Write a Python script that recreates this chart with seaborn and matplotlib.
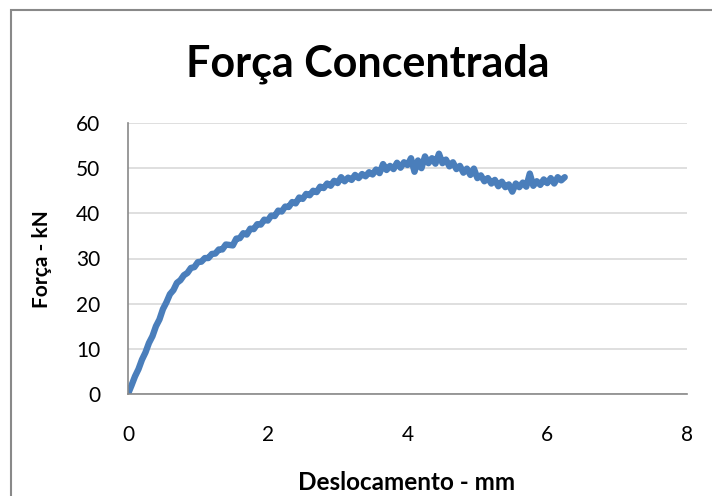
import matplotlib
matplotlib.use("Agg")
import matplotlib.pyplot as plt
import seaborn as sns
import pandas as pd
from matplotlib.patches import Rectangle

deslocamento = [
    0.00, 0.05, 0.10, 0.15, 0.20, 0.25, 0.30, 0.35, 0.40, 0.45,
    0.50, 0.55, 0.60, 0.65, 0.70, 0.75, 0.80, 0.85, 0.90, 0.95,
    1.00, 1.05, 1.10, 1.15, 1.20, 1.25, 1.30, 1.35, 1.40, 1.45,
    1.50, 1.55, 1.60, 1.65, 1.70, 1.75, 1.80, 1.85, 1.90, 1.95,
    2.00, 2.05, 2.10, 2.15, 2.20, 2.25, 2.30, 2.35, 2.40, 2.45,
    2.50, 2.55, 2.60, 2.65, 2.70, 2.75, 2.80, 2.85, 2.90, 2.95,
    3.00, 3.05, 3.10, 3.15, 3.20, 3.25, 3.30, 3.35, 3.40, 3.45,
    3.50, 3.55, 3.60, 3.65, 3.70, 3.75, 3.80, 3.85, 3.90, 3.95,
    4.00, 4.05, 4.10, 4.15, 4.20, 4.25, 4.30, 4.35, 4.40, 4.45,
    4.50, 4.55, 4.60, 4.65, 4.70, 4.75, 4.80, 4.85, 4.90, 4.95,
    5.00, 5.05, 5.10, 5.15, 5.20, 5.25, 5.30, 5.35, 5.40, 5.45,
    5.50, 5.55, 5.60, 5.65, 5.70, 5.75, 5.80, 5.85, 5.90, 5.95,
    6.00, 6.05, 6.10, 6.15, 6.20, 6.25,
]
forca = [
    0.0, 1.9, 3.9, 5.5, 7.6, 9.2, 11.3, 12.8, 15.0, 16.5,
    18.8, 20.3, 22.1, 23.0, 24.6, 25.2, 26.3, 26.8, 27.9, 28.1,
    29.2, 29.3, 30.1, 30.1, 31.0, 31.1, 32.0, 32.0, 33.1, 33.0,
    32.9, 34.4, 34.5, 35.6, 35.3, 36.6, 36.5, 37.6, 37.5, 38.6,
    38.4, 39.5, 39.4, 40.6, 40.4, 41.5, 41.4, 42.5, 42.2, 43.5,
    43.2, 44.3, 44.0, 45.0, 44.7, 45.9, 45.6, 46.6, 46.1, 47.2,
    46.7, 48.0, 47.1, 47.9, 47.4, 48.5, 47.8, 48.7, 48.2, 49.1,
    48.6, 49.7, 48.9, 50.9, 49.6, 50.5, 49.8, 51.2, 50.1, 51.3,
    50.7, 52.2, 49.2, 51.7, 50.0, 52.6, 51.1, 52.2, 51.0, 53.2,
    51.1, 51.9, 50.4, 51.3, 49.8, 50.5, 49.0, 49.9, 48.5, 49.9,
    47.8, 48.4, 47.1, 47.8, 46.6, 47.4, 46.0, 47.0, 45.8, 46.4,
    44.8, 46.6, 45.8, 46.8, 45.9, 48.8, 46.1, 47.1, 46.3, 47.5,
    46.7, 47.8, 46.6, 48.0, 47.3, 48.0,
]
x_ticks = [0, 2, 4, 6, 8]
y_ticks = [0, 10, 20, 30, 40, 50, 60]

titulo = "Força Concentrada"
x_label = "Deslocamento - mm"
y_label = "Força - kN"

sns.set_theme(style="white")
plt.rcParams["font.family"] = ["Lato", "DejaVu Sans"]
plt.rcParams["text.color"] = "black"

df = pd.DataFrame({"x": deslocamento, "y": forca})

fig = plt.figure(figsize=(7.12, 4.96), dpi=100)
ax = fig.add_axes([128 / 712, 1 - 394 / 496, (687 - 128) / 712, (394 - 123) / 496])

sns.lineplot(data=df, x="x", y="y", ax=ax, color="#4A7EBB", linewidth=4.6,
             solid_joinstyle="round", solid_capstyle="round", sort=False)

ax.set_xlim(0, 8)
ax.set_ylim(0, 60)
ax.set_xticks(x_ticks)
ax.set_yticks(y_ticks)
ax.set_xticklabels([str(t) for t in x_ticks], fontsize=15)
ax.set_yticklabels([str(t) for t in y_ticks], fontsize=15)
ax.tick_params(axis="both", length=0, colors="black")
ax.tick_params(axis="x", pad=22)
ax.tick_params(axis="y", pad=20)
ax.yaxis.grid(True, color="#D9D9D9", linewidth=1.2)
ax.xaxis.grid(False)
for s in ["top", "right"]:
    ax.spines[s].set_visible(False)
for s in ["left", "bottom"]:
    ax.spines[s].set_color("#898989")
    ax.spines[s].set_linewidth(1.2)
ax.set_xlabel("")
ax.set_ylabel("")

fig.text(368 / 712, 1 - 64 / 496, titulo, ha="center", va="center",
         fontsize=31, fontweight="bold", color="black")
fig.text(407 / 712, 1 - 483 / 496, x_label, ha="center", va="center",
         fontsize=17.5, fontweight="bold", color="black")
fig.text(42 / 712, 1 - 259 / 496, y_label, ha="center", va="center",
         rotation=90, fontsize=15, fontweight="bold", color="black")

fig.patches.append(Rectangle((11 / 712, -0.1), 1.2, 1 - 10 / 496 + 0.1,
                             transform=fig.transFigure, fill=False,
                             edgecolor="#898989", linewidth=1.5))

fig.savefig("out.png", dpi=100)
